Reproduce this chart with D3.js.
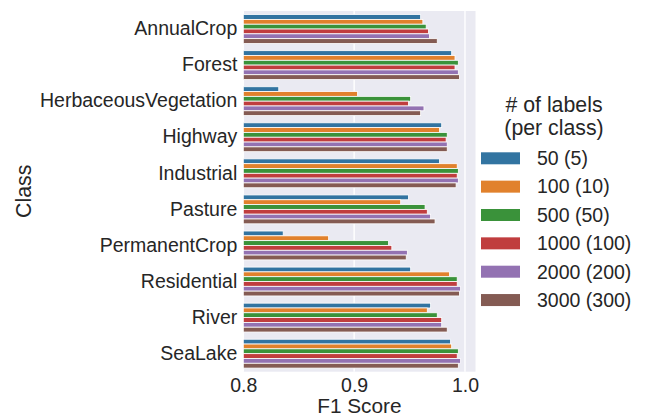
<!DOCTYPE html>
<html>
<head>
<meta charset="utf-8">
<script src="https://cdn.jsdelivr.net/npm/d3@7"></script>
<style>
  html, body { margin: 0; padding: 0; background: #fff; }
  svg { display: block; font-family: "Liberation Sans", Arial, sans-serif; }
</style>
</head>
<body>
<svg id="chart" width="648" height="417"></svg>
<script>
// Land-cover classes on the y axis
const classes = ["AnnualCrop", "Forest", "HerbaceousVegetation", "Highway", "Industrial",
                 "Pasture", "PermanentCrop", "Residential", "River", "SeaLake"];

// Training-set sizes (total labels, labels per class)
const seriesLabels = ["50 (5)", "100 (10)", "500 (50)", "1000 (100)", "2000 (200)", "3000 (300)"];

// F1 score per class, one array per training-set size
const f1_50   = [0.960, 0.988, 0.832, 0.979, 0.977, 0.949, 0.836, 0.951, 0.969, 0.987];
const f1_100  = [0.962, 0.991, 0.903, 0.977, 0.993, 0.942, 0.877, 0.986, 0.966, 0.988];
const f1_500  = [0.965, 0.994, 0.951, 0.984, 0.994, 0.964, 0.931, 0.993, 0.975, 0.994];
const f1_1000 = [0.967, 0.991, 0.949, 0.983, 0.993, 0.966, 0.934, 0.993, 0.979, 0.993];
const f1_2000 = [0.968, 0.994, 0.963, 0.984, 0.994, 0.969, 0.948, 0.996, 0.979, 0.996];
const f1_3000 = [0.975, 0.995, 0.960, 0.984, 0.992, 0.973, 0.947, 0.995, 0.984, 0.994];
const seriesValues = [f1_50, f1_100, f1_500, f1_1000, f1_2000, f1_3000];

const xTicks = [0.8, 0.9, 1.0];
const colors = ["#3274A1", "#E1812C", "#3A923A", "#C03D3E", "#9372B2", "#845B53"];

const svg = d3.select("#chart");
const margin = { left: 243.3, right: 172.5, top: 11, bottom: 45.3 };
const W = 648, H = 417;
const plotW = W - margin.left - margin.right;
const plotH = H - margin.top - margin.bottom;
const textColor = "#262626";

const x = d3.scaleLinear().domain([0.8, 1.0095]).range([0, plotW]);
const y = d3.scaleBand().domain(classes).range([0, plotH]).paddingInner(0.2).paddingOuter(0.1);
const ySub = d3.scaleBand().domain(d3.range(seriesLabels.length)).range([0, y.bandwidth()]);

const g = svg.append("g").attr("transform", `translate(${margin.left},${margin.top})`);

// Panel background
g.append("rect").attr("width", plotW).attr("height", plotH).attr("fill", "#EAEAF2");

// Vertical grid lines
g.append("g").selectAll("line").data(xTicks).join("line")
  .attr("x1", d => x(d)).attr("x2", d => x(d))
  .attr("y1", 0).attr("y2", plotH)
  .attr("stroke", "#fff").attr("stroke-width", 1.4);

// Grouped horizontal bars
const rows = classes.map((c, i) => ({ c, vals: seriesValues.map(s => s[i]) }));
g.append("g").selectAll("g").data(rows).join("g")
  .attr("transform", d => `translate(0,${y(d.c)})`)
  .selectAll("rect").data(d => d.vals.map((v, k) => ({ v, k }))).join("rect")
  .attr("x", x(0.8))
  .attr("y", d => ySub(d.k))
  .attr("width", d => x(d.v) - x(0.8))
  .attr("height", ySub.bandwidth())
  .attr("fill", d => colors[d.k])
  .attr("stroke", "#fff").attr("stroke-width", 0.8);

// X axis
const xAxis = g.append("g").attr("transform", `translate(0,${plotH})`)
  .call(d3.axisBottom(x).tickValues(xTicks).tickFormat(d3.format(".1f")).tickSize(0).tickPadding(6));
xAxis.select(".domain").remove();
xAxis.selectAll("text").attr("fill", textColor).style("font-size", "19.5px")
  .attr("dy", "0.71em");

// Y axis
const yAxis = g.append("g")
  .call(d3.axisLeft(y).tickSize(0).tickPadding(6));
yAxis.select(".domain").remove();
yAxis.selectAll("text").attr("fill", textColor).style("font-size", "19.5px");

// Axis titles
svg.append("text")
  .attr("x", margin.left + plotW / 2).attr("y", 412.5)
  .attr("text-anchor", "middle").attr("fill", textColor).style("font-size", "20.8px")
  .text("F1 Score");
svg.append("text")
  .attr("transform", `translate(31,${margin.top + plotH / 2}) rotate(-90)`)
  .attr("text-anchor", "middle").attr("fill", textColor).style("font-size", "21.3px")
  .text("Class");

// Legend
const legend = svg.append("g");
legend.append("text")
  .attr("x", 554).attr("y", 111.5)
  .attr("text-anchor", "middle").attr("fill", textColor).style("font-size", "21.3px")
  .text("# of labels");
legend.append("text")
  .attr("x", 554).attr("y", 134.5)
  .attr("text-anchor", "middle").attr("fill", textColor).style("font-size", "21.3px")
  .text("(per class)");
const items = legend.selectAll("g.item").data(seriesLabels).join("g")
  .attr("class", "item")
  .attr("transform", (d, i) => `translate(481,${158.3 + i * 28.35})`);
items.append("rect")
  .attr("x", 0).attr("y", -6).attr("width", 39).attr("height", 12)
  .attr("fill", (d, i) => colors[i]);
items.append("text")
  .attr("x", 56).attr("y", 0).attr("dy", "0.35em")
  .attr("fill", textColor).style("font-size", "19.5px")
  .text(d => d);
</script>
</body>
</html>
